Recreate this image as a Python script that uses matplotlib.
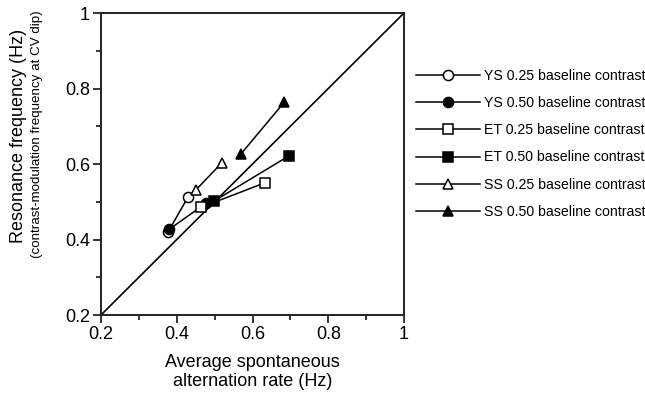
import numpy as np
import matplotlib.pyplot as plt
from matplotlib.ticker import MultipleLocator

plt.rcParams['font.family'] = ['Liberation Sans', 'DejaVu Sans']

# podaci: (x, y) za svaki subjekt/kontrast
labels = ['YS 0.25 baseline contrast', 'YS 0.50 baseline contrast',
          'ET 0.25 baseline contrast', 'ET 0.50 baseline contrast',
          'SS 0.25 baseline contrast', 'SS 0.50 baseline contrast']
ys25_x = [0.377, 0.430]
ys25_y = [0.420, 0.513]
ys50_x = [0.380, 0.477]
ys50_y = [0.427, 0.496]
et25_x = [0.464, 0.632]
et25_y = [0.485, 0.550]
et50_x = [0.497, 0.697]
et50_y = [0.501, 0.622]
ss25_x = [0.451, 0.519]
ss25_y = [0.532, 0.603]
ss50_x = [0.569, 0.684]
ss50_y = [0.626, 0.764]

serije = [
    (ys25_x, ys25_y, 'o', 'white'),
    (ys50_x, ys50_y, 'o', 'black'),
    (et25_x, et25_y, 's', 'white'),
    (et50_x, et50_y, 's', 'black'),
    (ss25_x, ss25_y, '^', 'white'),
    (ss50_x, ss50_y, '^', 'black'),
]

fig = plt.figure(figsize=(6.45, 3.94), dpi=100)
ax = fig.add_axes([0.1566, 0.2005, 0.4698, 0.7665])

# dijagonala
ax.plot([0.2, 1], [0.2, 1], color='black', lw=1.2, zorder=2)

for (x, y, m, fc), lbl in zip(serije, labels):
    ax.plot(x, y, color='black', lw=1.1, marker=m, markersize=7.3,
            markerfacecolor=fc, markeredgecolor='black', markeredgewidth=1.1,
            label=lbl, zorder=3)

ax.set_xlim(0.2, 1)
ax.set_ylim(0.2, 1)
ax.xaxis.set_major_locator(MultipleLocator(0.2))
ax.xaxis.set_minor_locator(MultipleLocator(0.1))
ax.yaxis.set_major_locator(MultipleLocator(0.2))
ax.yaxis.set_minor_locator(MultipleLocator(0.1))
fmt = lambda v, p: '1' if abs(v - 1) < 1e-9 else f'{v:.1f}'
ax.xaxis.set_major_formatter(fmt)
ax.yaxis.set_major_formatter(fmt)
ax.tick_params(which='major', direction='out', length=6, width=1.1, labelsize=13, pad=2)
ax.tick_params(which='minor', direction='out', length=3.5, width=1.1)
for s in ax.spines.values():
    s.set_linewidth(1.4)
    s.set_color('#222222')

ax.set_xlabel('Average spontaneous\nalternation rate (Hz)', fontsize=13, labelpad=8,
              linespacing=1.15)
fig.text(0.028, 0.655, 'Resonance frequency (Hz)', rotation=90, fontsize=13,
         ha='center', va='center')
fig.text(0.058, 0.66, '(contrast-modulation frequency at CV dip)', rotation=90,
         fontsize=9.6, ha='center', va='center')

ax.legend(loc='upper left', bbox_to_anchor=(0.645, 0.825), bbox_transform=fig.transFigure,
          frameon=False, fontsize=10.2, handlelength=4.5, handletextpad=0.3,
          labelspacing=0.93, borderpad=0, borderaxespad=0, numpoints=1)

plt.savefig('out.png', dpi=100)
